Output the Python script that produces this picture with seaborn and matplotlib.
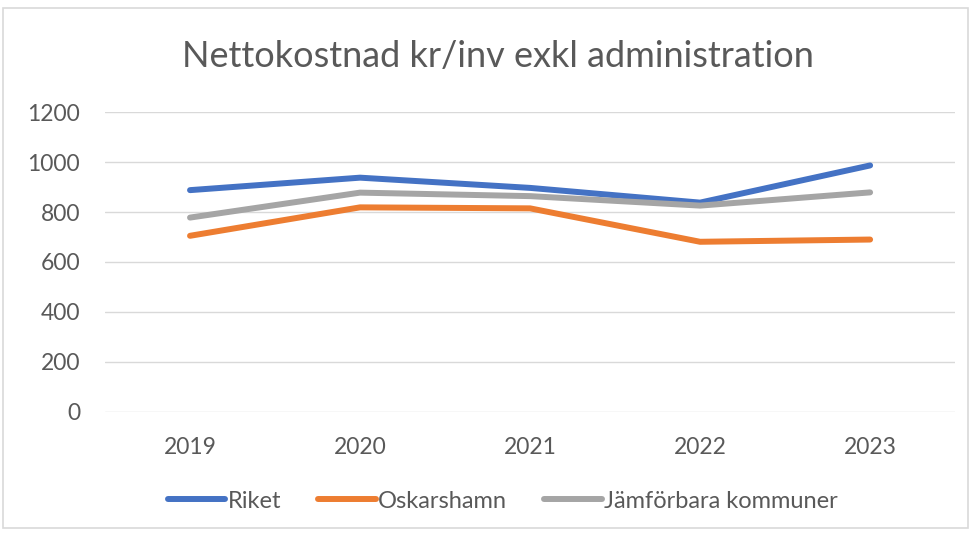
import numpy as np
import pandas as pd
import matplotlib.pyplot as plt
import seaborn as sns
from matplotlib.patches import Rectangle

# data
years = ['2019', '2020', '2021', '2022', '2023']
riket = [888, 938, 897, 838, 987]
oskarshamn = [705, 819, 815, 681, 690]
jamforbara = [778, 878, 864, 826, 879]
series_names = ['Riket', 'Oskarshamn', 'Jämförbara kommuner']
colors = ['#4472c4', '#ed7d31', '#a5a5a5']

df = pd.DataFrame({'År': years * 3,
                   'Värde': riket + oskarshamn + jamforbara,
                   'Serie': np.repeat(series_names, len(years))})

sns.set_style('white')
plt.rcParams['font.family'] = ['Lato', 'DejaVu Sans']
grey_txt = '#595959'

fig = plt.figure(figsize=(9.76, 5.36), dpi=100)
ax = fig.add_axes([0.1076, 0.2319, 0.871, 0.5586])

sns.lineplot(data=df, x='År', y='Värde', hue='Serie', palette=colors,
             linewidth=4.3, solid_capstyle='round', ax=ax, sort=False)

ax.set_xlim(-0.5, 4.5)
ax.set_ylim(0, 1200)
ax.set_yticks(np.arange(0, 1201, 200))
ax.yaxis.grid(True, color='#d9d9d9', linewidth=1)
ax.set_axisbelow(True)
for s in ax.spines.values():
    s.set_visible(False)
ax.set_xlabel('')
ax.set_ylabel('')
ax.tick_params(axis='y', length=0, pad=18, labelsize=16.5, labelcolor=grey_txt)
ax.tick_params(axis='x', length=0, pad=18, labelsize=16.5, labelcolor=grey_txt)

leg = ax.legend(loc='center', bbox_to_anchor=(0.515, 0.065),
                bbox_transform=fig.transFigure, ncol=3,
                frameon=False, fontsize=17, handlelength=2.45, handletextpad=0.1,
                columnspacing=1.55, labelcolor=grey_txt)
for h in leg.get_lines():
    h.set_linewidth(4.3)
    h.set_solid_capstyle('round')

fig.text(0.51, 0.875, 'Nettokostnad kr/inv exkl administration',
         ha='center', va='baseline', fontsize=26, color=grey_txt)

fig.patches.append(Rectangle((0.003, 0.015), 0.989, 0.97, transform=fig.transFigure,
                             fill=False, edgecolor='#d9d9d9', linewidth=1.2))

fig.savefig('out.png', dpi=100)
plt.close()
